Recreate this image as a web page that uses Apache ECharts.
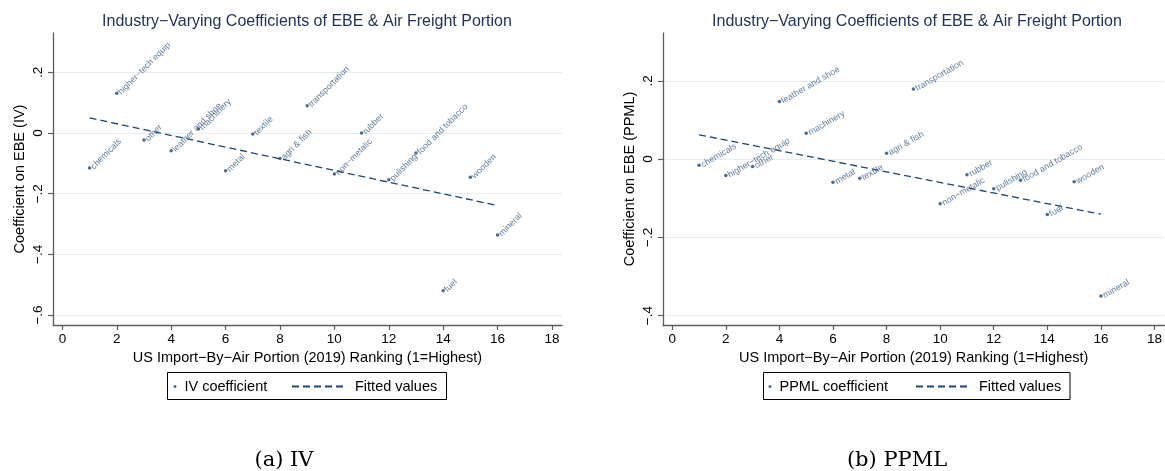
<!DOCTYPE html>
<html>
<head>
<meta charset="UTF-8">
<title>index.html</title>
<style type="text/css">
html, body { margin: 0; padding: 0; background: #fff; }
#main { width: 1165px; height: 471px; }
</style>
</head>
<body>
<div id="main"></div>
<script type="text/javascript" src="https://cdn.jsdelivr.net/npm/echarts@6/dist/echarts.min.js"></script>
<script>
  // industries ordered by US import-by-air portion ranking (1 = highest)
  var ranks = [1, 2, 3, 4, 5, 6, 7, 8, 9, 10, 11, 12, 13, 14, 15, 16];
  var industries = ['chemicals', 'higher\u2212tech equip', 'other', 'leather and shoe', 'machinery', 'metal',
    'textile', 'agri & fish', 'transportation', 'non\u2212metalic', 'rubber', 'pulishing',
    'food and tobacco', 'fuel', 'wooden', 'mineral'];
  var ivCoef = [-0.115, 0.131, -0.023, -0.058, 0.013, -0.124, -0.003, -0.084, 0.090, -0.135,
    0.000, -0.154, -0.066, -0.520, -0.146, -0.336];
  var ppmlCoef = [-0.016, -0.042, -0.019, 0.147, 0.066, -0.059, -0.049, 0.015, 0.179, -0.114,
    -0.040, -0.076, -0.054, -0.142, -0.058, -0.350];
  // fitted line end points
  var fitX = [1, 16];
  var ivFit = [0.050, -0.239];
  var ppmlFit = [0.062, -0.141];
  // tick labels
  var xTicks = [0, 2, 4, 6, 8, 10, 12, 14, 16, 18];
  var ivTicks = [-0.6, -0.4, -0.2, 0, 0.2];
  var ppmlTicks = [-0.4, -0.2, 0, 0.2];

  var FONT = 'Liberation Sans, Arial, Helvetica, sans-serif';
  var NAVY = '#1a476f';
  var TITLE = 'Industry\u2212Varying Coefficients of EBE & Air Freight Portion';
  var XNAME = 'US Import\u2212By\u2212Air Portion (2019) Ranking (1=Highest)';

  function pairs(xs, ys) {
    var out = [];
    for (var i = 0; i < xs.length; i++) out.push([xs[i], ys[i], industries[i]]);
    return out;
  }
  function yFmt(v) {
    if (Math.abs(v) < 1e-9) return '0';
    var s = String(Math.abs(Math.round(v * 10) / 10)).replace(/^0/, '');
    return (v < 0 ? '\u2212' : '') + s;
  }
  var axisLine = { show: true, onZero: false, lineStyle: { color: '#5c5c5c', width: 1.3 } };
  function xAxis(idx) {
    return {
      gridIndex: idx, type: 'value', min: -0.345, max: 18.37,
      axisLine: axisLine,
      axisTick: { show: true, length: 5, customValues: xTicks, lineStyle: { color: '#5c5c5c', width: 1.2 } },
      axisLabel: { customValues: xTicks, margin: 7, fontSize: 13.5, color: '#000', fontFamily: FONT },
      splitLine: { show: false },
      name: XNAME, nameLocation: 'middle', nameGap: 22,
      nameTextStyle: { fontSize: 14.5, color: '#000', fontFamily: FONT }
    };
  }
  function yAxis(idx, min, max, ticks, name) {
    return {
      gridIndex: idx, type: 'value', min: min, max: max,
      axisLine: axisLine,
      axisTick: { show: true, length: 5, customValues: ticks, lineStyle: { color: '#5c5c5c', width: 1.2 } },
      axisLabel: { customValues: ticks, rotate: 90, margin: 8, fontSize: 13.5, color: '#000',
        fontFamily: FONT, formatter: yFmt },
      splitLine: { show: true, lineStyle: { color: '#e4edf0', width: 1 } },
      name: name, nameLocation: 'middle', nameRotate: 90, nameGap: 26,
      nameTextStyle: { fontSize: 14.5, color: '#000', fontFamily: FONT }
    };
  }
  function pointSeries(name, idx, ys, rot) {
    return {
      name: name, type: 'scatter', xAxisIndex: idx, yAxisIndex: idx,
      data: pairs(ranks, ys), symbol: 'circle', symbolSize: 3.5,
      itemStyle: { color: NAVY },
      label: {
        show: true, position: 'right', distance: 1, rotate: rot, align: 'left', verticalAlign: 'middle',
        fontSize: 8.8, color: '#35597f', fontFamily: FONT,
        formatter: function (p) { return p.data[2]; }
      },
      z: 3
    };
  }
  function fitSeries(idx, ys) {
    return {
      name: 'Fitted values', type: 'line', xAxisIndex: idx, yAxisIndex: idx,
      data: [[fitX[0], ys[0]], [fitX[1], ys[1]]], symbol: 'none',
      lineStyle: { color: NAVY, width: 1.3, type: [7, 4] },
      itemStyle: { color: NAVY }, z: 2
    };
  }
  function dotLegend(names, left) {
    return {
      data: names, left: left, top: 379, padding: 0, itemWidth: 3, itemHeight: 14, icon: 'circle',
      textStyle: { fontSize: 14.5, color: '#000', fontFamily: FONT, padding: [0, 0, 0, 3] },
      selectedMode: false
    };
  }
  function lineLegend(names, left) {
    return {
      data: names, left: left, top: 379, padding: 0, itemWidth: 54, itemHeight: 14,
      itemStyle: { opacity: 0 },
      textStyle: { fontSize: 14.5, color: '#000', fontFamily: FONT, padding: [0, 0, 0, 4] },
      selectedMode: false
    };
  }

  var myChart = echarts.init(document.getElementById('main'), null, { renderer: 'canvas' });
  var option = {
    animation: false,
    backgroundColor: '#fff',
    title: [
      { text: TITLE, left: 307, textAlign: 'center', top: 14, padding: 0,
        textStyle: { fontSize: 16, fontWeight: 'normal', color: '#22335a', fontFamily: FONT } },
      { text: TITLE, left: 917, textAlign: 'center', top: 14, padding: 0,
        textStyle: { fontSize: 16, fontWeight: 'normal', color: '#22335a', fontFamily: FONT } }
    ],
    grid: [
      { left: 53, top: 33, width: 509, height: 292 },
      { left: 663, top: 33, width: 509, height: 292 }
    ],
    xAxis: [xAxis(0), xAxis(1)],
    yAxis: [
      yAxis(0, -0.633, 0.330, ivTicks, 'Coefficient on EBE (IV)'),
      yAxis(1, -0.424, 0.322, ppmlTicks, 'Coefficient on EBE (PPML)')
    ],
    legend: [
      dotLegend(['IV coefficient'], 173.5),
      lineLegend(['Fitted values'], 291),
      dotLegend(['PPML coefficient'], 768.5),
      lineLegend(['Fitted values'], 915)
    ],
    graphic: [
      { type: 'rect', shape: { x: 167.5, y: 372.5, width: 279, height: 27 },
        style: { fill: 'none', stroke: '#000', lineWidth: 1 } },
      { type: 'rect', shape: { x: 763.5, y: 372.5, width: 306.5, height: 27 },
        style: { fill: 'none', stroke: '#000', lineWidth: 1 } },
      { type: 'text', x: 284, y: 461, style: { text: '(a) IV', fontSize: 21, fontFamily: 'DejaVu Serif, serif',
        fill: '#000', align: 'center', verticalAlign: 'middle' } },
      { type: 'text', x: 897, y: 461, style: { text: '(b) PPML', fontSize: 21, fontFamily: 'DejaVu Serif, serif',
        fill: '#000', align: 'center', verticalAlign: 'middle' } }
    ],
    series: [
      pointSeries('IV coefficient', 0, ivCoef, 45),
      fitSeries(0, ivFit),
      pointSeries('PPML coefficient', 1, ppmlCoef, 30),
      fitSeries(1, ppmlFit)
    ]
  };
  myChart.setOption(option);
</script>
</body>
</html>
